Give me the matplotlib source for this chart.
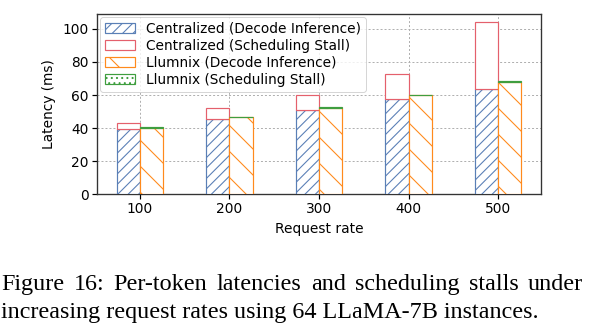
import numpy as np
import matplotlib
matplotlib.use("Agg")
import matplotlib.pyplot as plt

# values (ms)
rates = ["100", "200", "300", "400", "500"]
cent_decode = [39.4, 45.5, 51.0, 57.7, 63.6]
cent_stall = [3.6, 6.5, 9.2, 15.3, 40.4]
llum_decode = [40.0, 46.5, 52.2, 59.8, 68.0]
llum_stall = [0.6, 0.5, 0.5, 0.5, 0.6]

caption = ["Figure 16: Per-token latencies and scheduling stalls under",
           "increasing request rates using 64 LLaMA-7B instances."]

# dpi picked so the hatch spacing matches the reference
DPI = 156
W, H = 593, 333
FS = 6.37
plt.rcParams['font.family'] = ['DejaVu Sans']
plt.rcParams['hatch.linewidth'] = 0.5

fig = plt.figure(figsize=(W / DPI, H / DPI), dpi=DPI)
ax = fig.add_axes([0.1636, 0.4165, 0.7487, 0.5415])

x = np.arange(len(rates))
w = 0.26
blue, red, orange, green = "#5a7fb6", "#e4606c", "#ff8a1c", "#3f9e3f"

ax.bar(x - w / 2, cent_decode, w, color="white", edgecolor=blue, hatch="/////",
       linewidth=0.55, label="Centralized (Decode Inference)", zorder=3)
ax.bar(x - w / 2, cent_stall, w, bottom=cent_decode, color="white", edgecolor=red,
       linewidth=0.55, label="Centralized (Scheduling Stall)", zorder=3)
ax.bar(x + w / 2, llum_decode, w, color="white", edgecolor=orange, hatch="\\\\",
       linewidth=0.55, label="Llumnix (Decode Inference)", zorder=3)
ax.bar(x + w / 2, llum_stall, w, bottom=llum_decode, color="white", edgecolor=green,
       hatch=".....", linewidth=0.55, label="Llumnix (Scheduling Stall)", zorder=3)

ax.set_xlim(-0.48, 4.48)
ax.set_ylim(0, 109)
ax.set_xticks(x)
ax.set_xticklabels(rates)
ax.set_yticks([0, 20, 40, 60, 80, 100])
ax.tick_params(labelsize=FS, length=2.35, width=0.55, pad=1.35)
ax.set_xlabel("Request rate", fontsize=FS, labelpad=2.6)
ax.set_ylabel("Latency (ms)", fontsize=FS, labelpad=3.0)
for s in ax.spines.values():
    s.set_linewidth(0.62)
    s.set_color("#333333")
ax.grid(True, color="#b0b0b0", linestyle=(0, (2, 2)), linewidth=0.46, zorder=0)
ax.set_axisbelow(True)

leg = ax.legend(loc="upper left", fontsize=FS, frameon=True, handlelength=2.2,
                handleheight=0.8, borderpad=0.35, labelspacing=0.22,
                handletextpad=0.8, borderaxespad=0.2)
leg.get_frame().set_linewidth(0.46)

# caption: first line justified to the full width, second line natural
cap_fs = 11.17
renderer = fig.canvas.get_renderer()
words = caption[0].split()
texts = [fig.text(0, 0.129, wd, fontsize=cap_fs, family="Liberation Serif")
         for wd in words]
widths = [t.get_window_extent(renderer).width for t in texts]
left, right = 1.0, 583.0
gap = (right - left - sum(widths)) / (len(words) - 1)
pos = left
for t, wd in zip(texts, widths):
    t.set_x(pos / W)
    pos += wd + gap
fig.text(left / W, 0.045, caption[1], fontsize=cap_fs, family="Liberation Serif")

fig.savefig("out.png", dpi=DPI)
